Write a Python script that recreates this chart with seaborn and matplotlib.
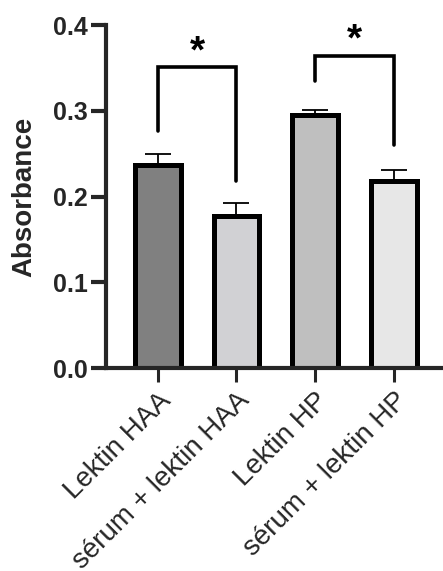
import numpy as np
import matplotlib
matplotlib.use("Agg")
import matplotlib.pyplot as plt
import seaborn as sns

categories = ["Lektin HAA", "sérum + lektin HAA", "Lektin HP", "sérum + lektin HP"]
absorbance = [0.237, 0.177, 0.295, 0.218]
sem = [0.012, 0.015, 0.006, 0.013]
bar_colors = ["#808080", "#d1d1d4", "#bfbfbf", "#e7e7e7"]
y_ticks = [0.0, 0.1, 0.2, 0.3, 0.4]

# significance brackets: (left x, right x, left leg bottom, right leg bottom, top)
brackets = [(0, 1, 0.276, 0.218, 0.351), (2, 3, 0.335, 0.260, 0.364)]
star_y = [0.368, 0.382]


def main():
    sns.set_style("ticks")
    plt.rcParams["font.family"] = ["Liberation Sans", "DejaVu Sans"]

    fig = plt.figure(figsize=(4.43, 5.71), dpi=100)
    ax = fig.add_axes([0.239, 0.3555, 0.759, 0.6007])

    x = np.arange(len(categories))
    ax.errorbar(x, absorbance, yerr=[np.zeros(len(sem)), sem], fmt="none",
                ecolor="black", elinewidth=1.3, capsize=9.5, capthick=1.3, zorder=1)
    sns.barplot(x=categories, y=absorbance, hue=categories, palette=bar_colors,
                legend=False, width=0.58, edgecolor="black", linewidth=3.6,
                saturation=1, ax=ax, zorder=2)

    for x0, x1, yl, yr, top in brackets:
        ax.plot([x0, x0, x1, x1], [yl, top, top, yr], color="black", lw=2.6,
                solid_joinstyle="miter", clip_on=False, zorder=3)
    for (x0, x1, _, _, _), sy in zip(brackets, star_y):
        ax.text((x0 + x1) / 2, sy, "*", ha="center", va="center",
                fontsize=28, fontweight="bold", color="black", clip_on=False)

    ax.set_xlim(-0.658, 3.61)
    ax.set_ylim(0, 0.4)
    ax.set_yticks(y_ticks)
    ax.set_yticklabels([f"{v:.1f}" for v in y_ticks], fontsize=18, fontweight="bold")
    ax.set_xticks(x)
    ax.set_xticklabels(categories, rotation=45, ha="right", rotation_mode="anchor",
                       fontsize=20)
    ax.set_xlabel("")
    ax.set_ylabel("Absorbance", fontsize=20, fontweight="bold", labelpad=11)

    sns.despine(ax=ax)
    for side in ["left", "bottom"]:
        ax.spines[side].set_linewidth(3)
    ax.tick_params(axis="y", length=11, width=3, pad=2)
    ax.tick_params(axis="x", length=10, width=2.2, pad=4)

    fig.savefig("out.png", dpi=100)


if __name__ == "__main__":
    main()
